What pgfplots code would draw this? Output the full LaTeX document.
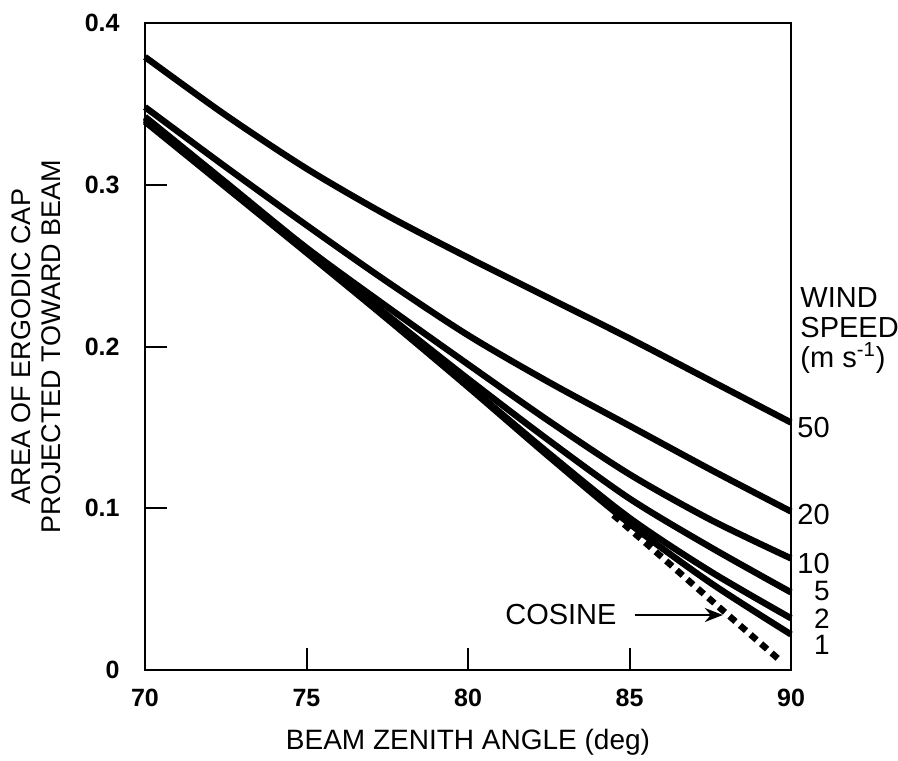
\documentclass[border=0pt]{standalone}
\usepackage{fontspec}
\setmainfont{Liberation Sans}
\usepackage{pgfplots}
\pgfplotsset{compat=1.18}
\usetikzlibrary{arrows.meta}
\tikzset{lab/.style={font=\fontsize{14.5}{15}\selectfont},
         sml/.style={font=\fontsize{14}{14}\selectfont}}

\begin{document}
\fontsize{12}{14.5}\selectfont
\begin{tikzpicture}
\begin{axis}[
    scale only axis,
    width=323pt, height=323.5pt,
    xmin=70, xmax=90, ymin=0, ymax=0.4,
    xtick={70,75,80,85,90},
    ytick={0,0.1,0.2,0.3,0.4},
    yticklabels={0,0.1,0.2,0.3,0.4},
    xtick pos=bottom, ytick pos=left,
    xtick align=inside, ytick align=inside,
    tickwidth=11pt,
    tick style={draw=black, line width=1pt},
    axis line style={line width=1.3pt},
    /pgf/number format/assume math mode=true,
    ticklabel style={font=\fontsize{12.5}{14}\selectfont\bfseries},
    yticklabel style={xshift=-8.5pt},
    xticklabel style={yshift=-5.5pt},
    xlabel={BEAM ZENITH ANGLE (deg)},
    xlabel style={at={(axis description cs:0.5,-0.111)}, anchor=center, font=\fontsize{14}{15}\selectfont},
    ylabel={AREA OF ERGODIC CAP\\PROJECTED TOWARD BEAM},
    ylabel style={at={(axis description cs:-0.169,0.5)}, anchor=center, align=center, font=\fontsize{13.5}{15}\selectfont},
    clip=false,
    curve/.style={black, line width=3.2pt, smooth, tension=0.5, no markers},
]
% wind speed 50
\addplot[curve] coordinates {(70,0.379) (72.5,0.343) (75,0.310) (77.5,0.281) (80,0.255) (82.5,0.230) (85,0.205) (87.5,0.179) (90,0.153)};
% 20
\addplot[curve] coordinates {(70,0.348) (72.5,0.311) (75,0.275) (77.5,0.240) (80,0.207) (82.5,0.178) (85,0.151) (87.5,0.124) (90,0.098)};
% 10
\addplot[curve] coordinates {(70,0.342) (72.5,0.3015) (75,0.261) (77.5,0.2245) (80,0.189) (82.5,0.154) (85,0.121) (87.5,0.093) (90,0.069)};
% 5
\addplot[curve] coordinates {(70,0.341) (72.5,0.3005) (75,0.260) (77.5,0.2195) (80,0.180) (82.5,0.142) (85,0.106) (87.5,0.076) (90,0.048)};
% 2
\addplot[curve] coordinates {(70,0.340) (72.5,0.2995) (75,0.259) (77.5,0.218) (80,0.176) (82.5,0.134) (85,0.094) (87.5,0.061) (90,0.032)};
% 1
\addplot[curve] coordinates {(70,0.339) (72.5,0.2985) (75,0.258) (77.5,0.217) (80,0.175) (82.5,0.132) (85,0.0905) (87.5,0.054) (90,0.022)};
% cosine
\addplot[curve, dash pattern=on 4pt off 3pt] coordinates {(84.5,0.0958) (85,0.0872) (86,0.0698) (87,0.0523) (88,0.0349) (89,0.0175) (89.7,0.0052)};

\node[lab, anchor=east, inner sep=0pt] at (axis cs:91.21,0.150) {50};
\node[lab, anchor=east, inner sep=0pt] at (axis cs:91.21,0.096) {20};
\node[lab, anchor=east, inner sep=0pt] at (axis cs:91.21,0.066) {10};
\node[sml, anchor=east, inner sep=0pt] at (axis cs:91.21,0.049) {5};
\node[sml, anchor=east, inner sep=0pt] at (axis cs:91.21,0.032) {2};
\node[sml, anchor=east, inner sep=0pt] at (axis cs:91.21,0.0155) {1};
\node[lab, anchor=west, align=left, inner sep=0pt] at (axis cs:90.28,0.210) {WIND\\SPEED\\(m s\textsuperscript{-1})};
\node[lab, anchor=east, inner sep=0pt] at (axis cs:84.61,0.034) {COSINE};
\draw[-{Stealth[length=9pt,width=7pt]}, line width=1pt] (axis cs:85.17,0.034) -- (axis cs:87.89,0.034);
\end{axis}
\pgfresetboundingbox
\path[use as bounding box] (-72.5pt,-45pt) rectangle (376.5pt,335pt);
\end{tikzpicture}
\end{document}
